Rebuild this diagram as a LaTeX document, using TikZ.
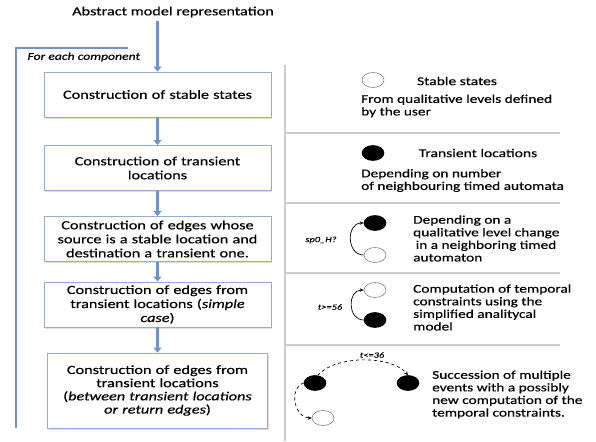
\documentclass[tikz,border=0pt]{standalone}
\usepackage{fontspec}
\setmainfont{Carlito}[FakeStretch=1.3, FakeBold=0.4]
\usetikzlibrary{arrows.meta,shapes.geometric,shadows}

\definecolor{flowblue}{RGB}{112,146,201}
\definecolor{boxline}{RGB}{150,172,210}
\definecolor{sepgray}{RGB}{205,205,205}

\tikzset{
  buildbox/.style={draw=boxline, line width=0.9pt, fill=white, align=center,
    minimum width=227pt, minimum height=45pt, text width=220pt, inner sep=0pt,
    drop shadow={opacity=0.25, shadow xshift=1pt, shadow yshift=-1.5pt},
    font=\fontsize{12.5}{14}\selectfont},
  flow/.style={draw=flowblue, line width=2.4pt, -{Triangle[width=8pt,length=5pt]}},
  sep/.style={draw=sepgray, line width=1.8pt},
  stable/.style={ellipse, draw=gray, fill=white, line width=0.6pt,
    minimum width=22pt, minimum height=15pt, inner sep=0pt},
  transient/.style={stable, draw=black, fill=black},
  note/.style={anchor=west, align=left, inner sep=0pt,
    font=\fontsize{11.8}{12.6}\selectfont},
  guard/.style={font=\fontsize{8}{9}\selectfont\itshape},
  move/.style={line width=0.7pt, -{Stealth[length=4pt,width=3.5pt]}}
}

\begin{document}
\begin{tikzpicture}[x=1pt, y=-1pt]
    \useasboundingbox (0,0) rectangle (596,441);
    % left column
    \node [font=\fontsize{12.5}{14}\selectfont] (abs) at (173,12) {Abstract model representation};
    \draw [flowblue, line width=2.4pt] (128,48) -- (16,48) -- (16,428);
    \node [anchor=west, font=\fontsize{10.5}{11}\selectfont\itshape] (each) at (24,57) {For each component};
    \node [buildbox] (stab) at (157.5,94.5) {Construction of stable states};
    \node [buildbox] (trans) at (157.5,168) {Construction of transient\\locations};
    \node [buildbox] (srcdst) at (157.5,239) {Construction of edges whose\\source is a stable location and\\destination a transient one.};
    \node [buildbox] (simple) at (157.5,304.5) {Construction of edges from\\transient locations (\emph{simple}\\\emph{case})};
    \node [buildbox, minimum width=219pt, minimum height=75pt, font=\fontsize{12.5}{13.2}\selectfont] (ret) at (157.5,390.5) {Construction of edges from\\transient locations\\(\emph{between transient locations}\\\emph{or return edges})};
    \draw [flow] (abs.south -| stab.north) -- (stab.north);
    \draw [flow] (stab) -- (trans);
    \draw [flow] (trans) -- (srcdst);
    \draw [flow] (srcdst) -- (simple);
    \draw [flow] (simple) -- (ret);
    % right column
    \draw [sep] (285,65) -- (285,441);
    \draw [sep] (285,133) -- (560,133);
    \draw [sep] (285,203) -- (560,203);
    \draw [sep] (285,273) -- (560,273);
    \draw [sep] (285,345) -- (560,345);
    \node [stable] (S1) at (373,80) {};
    \node [font=\fontsize{12}{13}\selectfont] (S1txt) at (457,81) {Stable states};
    \node [note] (S1note) at (361,106) {From qualitative levels defined\\by the user};
    \node [transient] (T1) at (373,153) {};
    \node [font=\fontsize{12}{13}\selectfont] (T1txt) at (478,153) {Transient locations};
    \node [note] (T1note) at (361,180.5) {Depending on number\\of neighbouring timed automata};
    \node [transient] (T2) at (375,223) {};
    \node [stable] (S2) at (375,255) {};
    \draw [move] (S2.west) to [out=180, in=180, looseness=1.4] (T2.west);
    \node [guard] (G1) at (321,240) {sp0\_H?};
    \node [note] (N2) at (413,238.5) {Depending on a\\qualitative level change\\\hspace{2.5pt}in a neighboring timed\\automaton};
    \node [stable] (S3) at (375,290) {};
    \node [transient] (T3) at (375,320) {};
    \draw [move] (T3.west) to [out=180, in=180, looseness=1.4] (S3.west);
    \node [guard] (G2) at (330,307) {t>=56};
    \node [note] (N3) at (413,307.5) {Computation of temporal\\constraints using the\\simplified analitycal\\model};
    \node [transient] (T4) at (315,383) {};
    \node [transient] (T5) at (408,383) {};
    \node [stable] (S4) at (323,418) {};
    \draw [move, dashed] (T4.70) to [out=50, in=130, looseness=0.75] (T5.north);
    \draw [move, dashed] (T4.west) to [out=200, in=180, looseness=1.2] (S4.west);
    \node [guard] (G3) at (372,355) {t<=36};
    \node [note] (N4) at (432,394.5) {Succession of multiple\\events with a possibly\\new computation of the\\temporal constraints.};
\end{tikzpicture}
\end{document}
